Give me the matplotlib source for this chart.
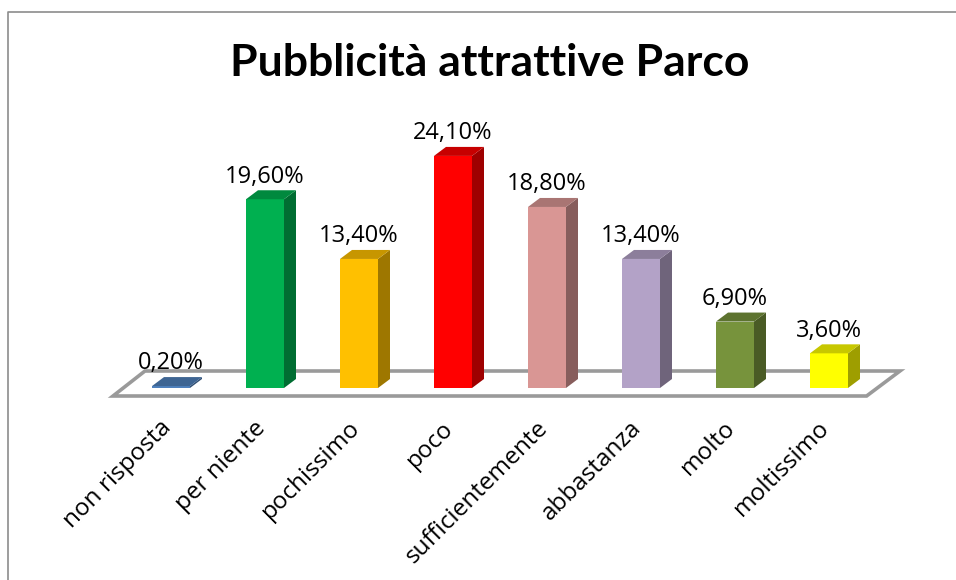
import matplotlib
matplotlib.use("Agg")
import matplotlib.pyplot as plt
from matplotlib.patches import Polygon
from matplotlib.lines import Line2D
import matplotlib.colors as mcolors
import numpy as np

categories = ["non risposta", "per niente", "pochissimo", "poco",
              "sufficientemente", "abbastanza", "molto", "moltissimo"]
values = [0.2, 19.6, 13.4, 24.1, 18.8, 13.4, 6.9, 3.6]
labels = ["0,20%", "19,60%", "13,40%", "24,10%", "18,80%", "13,40%", "6,90%", "3,60%"]
colors = ["#4F81BD", "#00B050", "#FFC000", "#FF0000",
          "#D99694", "#B3A2C7", "#77933C", "#FFFF00"]
title = "Pubblicità attrattive Parco"

W, H = 956, 580
fig = plt.figure(figsize=(W / 100, H / 100), dpi=100)
fig.patch.set_facecolor("white")

# outer chart border (only top and left edges are inside the picture)
bx, by = 8 / W, 1 - 12 / H
fig.lines.append(Line2D([bx, bx, 1.0], [0.0, by, by], transform=fig.transFigure,
                        color="#8C8C8C", linewidth=1.2))

ax = fig.add_axes([0, 0, 1, 1])
ax.set_axis_off()
px_x = 94.0          # pixels per category
x0 = 171.0           # pixel of first category
px_y = 9.63          # pixels per percent
y0 = 388.0           # pixel of baseline
ax.set_xlim(-x0 / px_x, (W - x0) / px_x)
ax.set_ylim((y0 - H) / px_y, y0 / px_y)

n = len(values)
w = 38 / px_x
dx = 12 / px_x
dy = 9 / px_y

def shade(c, f):
    r, g, b = mcolors.to_rgb(c)
    return (r * f, g * f, b * f)

# floor
fy0, fy1 = -8 / px_y, 17 / px_y
floor = Polygon([(-0.617, fy0), (n - 0.6, fy0), (n - 0.245, fy1), (-0.277, fy1)],
                closed=True, facecolor="white", edgecolor="#9A9A9A",
                linewidth=2.6, zorder=1)
ax.add_patch(floor)

for i, (v, c) in enumerate(zip(values, colors)):
    ax.bar(i, v, width=w, bottom=0, color=c, zorder=3, linewidth=0)
    xl, xr = i - w / 2, i + w / 2
    side = Polygon([(xr, 0), (xr + dx, dy), (xr + dx, v + dy), (xr, v)],
                   closed=True, facecolor=shade(c, 0.62), edgecolor="none", zorder=3)
    top = Polygon([(xl, v), (xl + dx, v + dy), (xr + dx, v + dy), (xr, v)],
                  closed=True, facecolor=shade(c, 0.78), edgecolor="none", zorder=3)
    ax.add_patch(side)
    ax.add_patch(top)
    ax.text(i, v + dy + 0.8, labels[i], ha="center", va="baseline",
            fontsize=17, family=["Open Sans", "DejaVu Sans"], color="black", zorder=4)
    ax.text(i - 0.03, -3.8, categories[i], ha="right", va="center",
            rotation=45, rotation_mode="anchor", fontsize=17.5,
            family=["Open Sans", "DejaVu Sans"], color="black")

fig.text(490 / W, 1 - 63 / H, title, ha="center", va="center",
         fontsize=32, fontweight="bold",
         family=["Lato", "DejaVu Sans"])

fig.savefig("out.png", dpi=100)
